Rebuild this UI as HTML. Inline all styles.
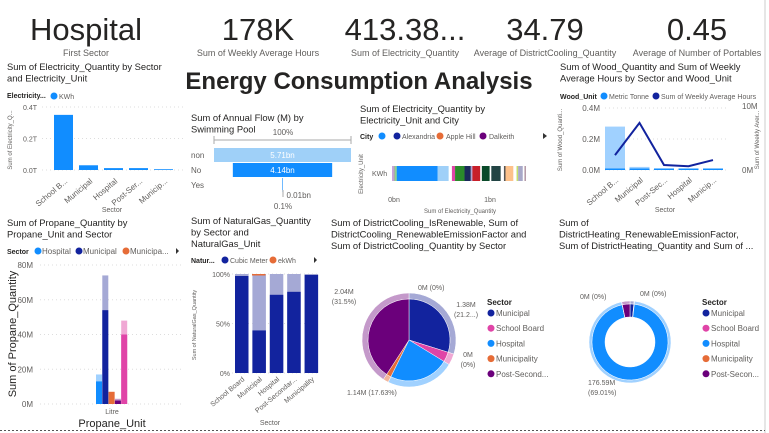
<!DOCTYPE html>
<html><head><meta charset="utf-8"><style>
html,body{margin:0;padding:0;background:#fff;}
svg{display:block;font-family:"Liberation Sans",sans-serif;}
</style></head><body>
<svg id="s" width="769" height="433" viewBox="0 0 769 433" xmlns="http://www.w3.org/2000/svg">
<rect x="0" y="0" width="769" height="433" fill="#fff"/>
<line x1="765" y1="0" x2="765" y2="433" stroke="#ccc"/>
<line x1="0" y1="430.5" x2="765" y2="430.5" stroke="#555" stroke-dasharray="2,2"/>
<g font-family="'Liberation Sans Narrow','Liberation Sans',sans-serif" fill="#252423" text-anchor="middle">
<text x="86" y="40" font-size="31">Hospital</text>
<text x="86" y="56" font-size="9" fill="#605e5c">First Sector</text>
<text x="258" y="40" font-size="31">178K</text>
<text x="258" y="56" font-size="9" fill="#605e5c">Sum of Weekly Average Hours</text>
<text x="405" y="40" font-size="31">413.38...</text>
<text x="405" y="56" font-size="9" fill="#605e5c">Sum of Electricity_Quantity</text>
<text x="545" y="40" font-size="31">34.79</text>
<text x="545" y="56" font-size="9" fill="#605e5c">Average of DistrictCooling_Quantity</text>
<text x="697" y="40" font-size="31">0.45</text>
<text x="697" y="56" font-size="9" fill="#605e5c">Average of Number of Portables</text>
</g>
<text x="359" y="89" text-anchor="middle" font-size="24" font-weight="bold" fill="#252423">Energy Consumption Analysis</text>
<g id="charts"></g>
</svg>
<script>
// ---- data ----
const elecSectors=["School B...","Municipal","Hospital","Post-Ser...","Municip..."];
const elecValues=[0.35,0.03,0.012,0.012,0.005];
const elecTicks=["0.0T","0.2T","0.4T"];
const funnelCats=["non","No","Yes"];
const funnelValues=[5.71,4.14,0.01];
const funnelLabels=["5.71bn","4.14bn","0.01bn"];
const cityShares=[0.01,0.01,0.01,0.26,0.07,0.02,0.02,0.06,0.04,0.01,0.05,0.01,0.05,0.01,0.06,0.02,0.01,0.05,0.02,0.01,0.03,0.01,0.01];
const cityColors=["#c9a0dc","#aaa","#7fd17f","#118dff","#9fd0f8","#fff","#e044a7","#2a8a2a","#1b2a5a","#b0a0d0","#c8202a","#fff","#0a4a2a","#fff","#244","#fff","#555","#fdc18a","#fff","#c6e06a","#a8a8c8","#fff","#b59ba8"];
const woodSectors=["School B...","Municipal","Post-Sec...","Hospital","Municip..."];
const woodValues=[0.28,0.02,0.01,0.005,0.005];
const hoursValues=[2.4,7.6,0.8,0.6,1.6];
const propaneSeries=["Hospital","Municipal","Municipality","Post-Secondary","School Board"];
const propaneTotal=[17,74,7,3,48];
const propaneDark=[13,54,7,2,40];
const propaneTicks=[0,20,40,60,80];
const gasSectors=["School Board","Municipal","Hospital","Post-Secondar...","Municipality"];
const gasCubicPct=[98,43,79,82,99];
const coolSectors=["Municipal","School Board","Hospital","Municipality","Post-Secondary"];
const coolValues=[1.9,0.25,1.5,0.12,2.6];
const heatValues=[3,0.4,176.59,0.2,6];

const NS="http://www.w3.org/2000/svg";
const root=document.getElementById('charts');
function mk(tag,attrs,parent,txt){const e=document.createElementNS(NS,tag);for(const k in attrs)e.setAttribute(k,attrs[k]);if(txt!==undefined)e.textContent=txt;(parent||root).appendChild(e);return e;}
function title(lines,x,y,name){const t=mk('text',{x:x,y:y,'font-size':9.4,fill:'#252423'});lines.forEach((l,i)=>mk('tspan',{x:x,dy:i?11.5:0},t,l));}
function txt(x,y,s,size,opts,name){const t=mk('text',Object.assign({x:x,y:y,'font-size':size,fill:'#605e5c'},opts||{}),root,s);return t;}
function dot(x,y,c,name){const d=mk('circle',{cx:x,cy:y,r:3.5,fill:c});}

// ---- Chart 1 ----
title(["Sum of Electricity_Quantity by Sector","and Electricity_Unit"],7,70,'electricity-chart-title');
txt(7,98,"Electricity...",7,{'font-weight':'bold',fill:'#252423'},'electricity-legend-title');
dot(54,96,'#118dff','electricity-legend-kwh-dot');txt(59,99,"KWh",7,{},'electricity-legend-kwh');
{const y0=170,h=63,max=0.4;const ys=v=>y0-v/max*h;
elecTicks.forEach((t,i)=>{const y=ys(i*0.2);mk('line',{x1:42,x2:183,y1:y,y2:y,stroke:'#ddd','stroke-dasharray':'1,3'});txt(37,y+3,t,7,{'text-anchor':'end'},'electricity-y-tick');});
elecValues.forEach((v,i)=>{const x=54+i*25;const b=mk('rect',{x:x,y:ys(v),width:19,height:y0-ys(v),fill:'#118dff'});
txt(x+14,182,elecSectors[i],8,{'text-anchor':'end',transform:`rotate(-40 ${x+14} 182)`},'electricity-x-label');});
txt(12,140,"Sum of Electricity_Q...",6,{'text-anchor':'middle',transform:'rotate(-90 12 140)'},'electricity-y-axis-title');
txt(112,212,"Sector",7,{'text-anchor':'middle'},'electricity-x-axis-title');}

// ---- Chart 2: funnel ----
title(["Sum of Annual Flow (M) by","Swimming Pool"],191,121,'funnel-chart-title');
txt(283,135,"100%",8,{'text-anchor':'middle'},'funnel-top-pct');
mk('line',{x1:214,x2:351,y1:140,y2:140,stroke:'#aaa'});mk('line',{x1:214,x2:214,y1:136,y2:144,stroke:'#aaa'});mk('line',{x1:351,x2:351,y1:136,y2:144,stroke:'#aaa'});
{const cx=282.5,w=137,fc=['#9fd0f8','#118dff','#118dff'];
funnelValues.forEach((v,i)=>{const bw=v/funnelValues[0]*w;const y=148+i*15;
const b=mk('rect',{x:cx-bw/2,y:y,width:Math.max(bw,0.6),height:14,fill:fc[i]});
txt(191,y+10,funnelCats[i],8,{},'funnel-category-label');
if(bw>30)txt(cx,y+10,funnelLabels[i],8,{'text-anchor':'middle',fill:'#fff'},'funnel-value-label');else txt(cx+4,y+20,funnelLabels[i],8,{},'funnel-value-label');});
mk('line',{x1:283,x2:283,y1:190,y2:197,stroke:'#aaa'});
txt(283,209,"0.1%",8,{'text-anchor':'middle'},'funnel-bottom-pct');}

// ---- Chart 3: electricity by city ----
title(["Sum of Electricity_Quantity by","Electricity_Unit and City"],360,112,'city-chart-title');
txt(360,139,"City",7,{'font-weight':'bold',fill:'#252423'},'city-legend-title');
dot(382,136,'#118dff','city-legend-dot-0');dot(397,136,'#12239e','city-legend-dot-1');txt(402,139,"Alexandria",7,{},'city-legend-alexandria');
dot(440,136,'#e66c37','city-legend-dot-2');txt(446,139,"Apple Hill",7,{},'city-legend-applehill');
dot(483,136,'#6b007b','city-legend-dot-3');txt(489,139,"Dalkeith",7,{},'city-legend-dalkeith');
mk('path',{d:'M543 133 L547 136 L543 139Z',fill:'#333'});
txt(372,176,"KWh",7,{},'city-y-label');
txt(363,174,"Electricity_Unit",6,{'text-anchor':'middle',transform:'rotate(-90 363 174)'},'city-y-axis-title');
{let x=392;const total=cityShares.reduce((a,b)=>a+b,0);const W=134;
cityShares.forEach((v,i)=>{const w=v/total*W;const r=mk('rect',{x:x,y:166,width:w,height:15,fill:cityColors[i]});x+=w;});
txt(394,202,"0bn",7,{'text-anchor':'middle'},'city-x-tick');txt(490,202,"1bn",7,{'text-anchor':'middle'},'city-x-tick');
txt(460,213,"Sum of Electricity_Quantity",6,{'text-anchor':'middle'},'city-x-axis-title');}

// ---- Chart 4: wood ----
title(["Sum of Wood_Quantity and Sum of Weekly","Average Hours by Sector and Wood_Unit"],560,70,'wood-chart-title');
txt(560,99,"Wood_Unit",7,{'font-weight':'bold',fill:'#252423'},'wood-legend-title');
dot(604,96,'#118dff','wood-legend-dot-metric');txt(609,99,"Metric Tonne",7,{},'wood-legend-metric');
dot(656,96,'#12239e','wood-legend-dot-hours');txt(661,99,"Sum of Weekly Average Hours",7,{},'wood-legend-hours');
{const y0=170,h=62;const yl=v=>y0-v/0.4*h,yr=v=>y0-v/10*h;
[0,0.2,0.4].forEach(v=>{mk('line',{x1:605,x2:728,y1:yl(v),y2:yl(v),stroke:'#ddd','stroke-dasharray':'1,3'});txt(600,yl(v)+3,v.toFixed(1)+"M",8,{'text-anchor':'end'},'wood-y-tick');});
txt(742,109,"10M",8,{},'wood-y2-tick');txt(742,173,"0M",8,{},'wood-y2-tick');
let pts=[];
woodValues.forEach((v,i)=>{const x=605+i*24.5;const b=mk('rect',{x:x,y:yl(v),width:20,height:y0-yl(v),fill:'#a0d1ff'});
mk('rect',{x:x,y:y0-1.5,width:20,height:1.5,fill:'#118dff'});
pts.push((x+10)+','+yr(hoursValues[i]));
txt(x+14,181,woodSectors[i],8,{'text-anchor':'end',transform:`rotate(-40 ${x+14} 181)`},'wood-x-label');});
const l=mk('polyline',{points:pts.join(' '),fill:'none',stroke:'#12239e','stroke-width':2});
txt(562,140,"Sum of Wood_Quanti...",6,{'text-anchor':'middle',transform:'rotate(-90 562 140)'},'wood-y-axis-title');
txt(759,140,"Sum of Weekly Aver...",6,{'text-anchor':'middle',transform:'rotate(-90 759 140)'},'wood-y2-axis-title');
txt(665,212,"Sector",7,{'text-anchor':'middle'},'wood-x-axis-title');}

// ---- Chart 5: propane ----
title(["Sum of Propane_Quantity by","Propane_Unit and Sector"],7,226,'propane-chart-title');
txt(7,254,"Sector",7,{'font-weight':'bold',fill:'#252423'},'propane-legend-title');
const pc=['#118dff','#12239e','#e66c37','#6b007b','#e044a7'],pl=['#a0d1ff','#a5a9d5','#f2b69c','#c499ca','#f0a8d4'];
dot(38,251,pc[0],'propane-legend-dot-hospital');txt(42,254,"Hospital",8,{},'propane-legend-hospital');
dot(79,251,pc[1],'propane-legend-dot-municipal');txt(83,254,"Municipal",8,{},'propane-legend-municipal');
dot(126,251,pc[2],'propane-legend-dot-municipality');txt(130,254,"Municipa...",8,{},'propane-legend-municipality');
mk('path',{d:'M176 248 L179 251 L176 254Z',fill:'#333'});
{const y0=404,h=139;const ys=v=>y0-v/80*h;
propaneTicks.forEach(v=>{mk('line',{x1:40,x2:183,y1:ys(v),y2:ys(v),stroke:'#ddd','stroke-dasharray':'1,3'});txt(33,ys(v)+3,v+"M",8,{'text-anchor':'end'},'propane-y-tick');});
propaneTotal.forEach((v,i)=>{const x=96+i*6.3;const a=mk('rect',{x:x,y:ys(v),width:6,height:y0-ys(v),fill:pl[i]});
const d=mk('rect',{x:x,y:ys(propaneDark[i]),width:6,height:y0-ys(propaneDark[i]),fill:pc[i]});});
txt(112,414,"Litre",7,{'text-anchor':'middle'},'propane-x-tick');
txt(112,427,"Propane_Unit",11,{'text-anchor':'middle',fill:'#252423'},'propane-x-axis-title');
txt(16,334,"Sum of Propane_Quantity",11,{'text-anchor':'middle',fill:'#252423',transform:'rotate(-90 16 334)'},'propane-y-axis-title');}

// ---- Chart 6: natural gas ----
title(["Sum of NaturalGas_Quantity","by Sector and","NaturalGas_Unit"],191,224,'gas-chart-title');
txt(191,263,"Natur...",7,{'font-weight':'bold',fill:'#252423'},'gas-legend-title');
dot(225,260,'#12239e','gas-legend-dot-cubic');txt(230,263,"Cubic Meter",7,{},'gas-legend-cubic');
dot(273,260,'#e66c37','gas-legend-dot-ekwh');txt(278,263,"ekWh",7,{},'gas-legend-ekwh');
mk('path',{d:'M314 257 L317 260 L314 263Z',fill:'#333'});
{const y0=373,h=99;const ys=v=>y0-v/100*h;
[0,50,100].forEach(v=>{mk('line',{x1:232,x2:318,y1:ys(v),y2:ys(v),stroke:'#ddd','stroke-dasharray':'1,3'});txt(230,ys(v)+3,v+"%",7,{'text-anchor':'end'},'gas-y-tick');});
gasCubicPct.forEach((v,i)=>{const x=235+i*17.4;mk('rect',{x:x,y:ys(100),width:13.5,height:h,fill:'#a5a9d5'});
const b=mk('rect',{x:x,y:ys(v),width:13.5,height:y0-ys(v),fill:'#12239e'});
txt(x+10,380,gasSectors[i],7,{'text-anchor':'end',transform:`rotate(-40 ${x+10} 380)`},'gas-x-label');});
mk('rect',{x:252,y:ys(100),width:13.5,height:1.5,fill:'#e66c37'});
txt(196,325,"Sum of NaturalGas_Quantity",5.5,{'text-anchor':'middle',transform:'rotate(-90 196 325)'},'gas-y-axis-title');
txt(270,425,"Sector",7,{'text-anchor':'middle'},'gas-x-axis-title');}

// ---- Pie/donut helper ----
function arc(cx,cy,r0,r1,a0,a1){const p=(r,a)=>[cx+r*Math.sin(a),cy-r*Math.cos(a)];const lg=(a1-a0)>Math.PI?1:0;const [x1,y1]=p(r1,a0),[x2,y2]=p(r1,a1);
if(r0===0){return `M${cx} ${cy}L${x1} ${y1}A${r1} ${r1} 0 ${lg} 1 ${x2} ${y2}Z`;}
const [x3,y3]=p(r0,a1),[x4,y4]=p(r0,a0);return `M${x1} ${y1}A${r1} ${r1} 0 ${lg} 1 ${x2} ${y2}L${x3} ${y3}A${r0} ${r0} 0 ${lg} 0 ${x4} ${y4}Z`;}
function pie(vals,cx,cy,rin,rmid,rout,prefix){const t=vals.reduce((a,b)=>a+b,0);let a=0;
vals.forEach((v,i)=>{const a1=a+v/t*2*Math.PI;mk('path',{d:arc(cx,cy,rmid,rout,a,a1),fill:pl[[1,4,0,2,3][i]],stroke:'#fff','stroke-width':0.5});
const s=mk('path',{d:arc(cx,cy,rin,rmid,a,a1),fill:pc[[1,4,0,2,3][i]],stroke:'#fff','stroke-width':0.5});a=a1;});}
function legend(x,prefix){txt(x,305,"Sector",8,{'font-weight':'bold',fill:'#252423'},prefix+'-legend-title');
const names=[["Municipal",1],["School Board",4],["Hospital",0],["Municipality",2],[prefix==='cooling'?"Post-Second...":"Post-Secon...",3]];
names.forEach((n,i)=>{const y=316+i*15.2;dot(x+4,y-3,pc[n[1]],prefix+'-legend-dot-'+i);txt(x+9,y,n[0],8,{},prefix+'-legend-item');});}

// ---- Chart 7 ----
title(["Sum of DistrictCooling_IsRenewable, Sum of","DistrictCooling_RenewableEmissionFactor and","Sum of DistrictCooling_Quantity by Sector"],331,226,'cooling-chart-title');
pie(coolValues,409,340,0,41,47,'cooling');
txt(344,294,"2.04M",7,{'text-anchor':'middle'},'cooling-label-post');txt(344,304,"(31.5%)",7,{'text-anchor':'middle'},'cooling-label-post-pct');
txt(418,290,"0M (0%)",7,{},'cooling-label-top');
txt(466,307,"1.38M",7,{'text-anchor':'middle'},'cooling-label-municipal');txt(466,317,"(21.2...)",7,{'text-anchor':'middle'},'cooling-label-municipal-pct');
txt(468,357,"0M",7,{'text-anchor':'middle'},'cooling-label-school');txt(468,367,"(0%)",7,{'text-anchor':'middle'},'cooling-label-school-pct');
txt(347,395,"1.14M (17.63%)",7,{},'cooling-label-hospital');
legend(487,'cooling');

// ---- Chart 8 ----
title(["Sum of","DistrictHeating_RenewableEmissionFactor,","Sum of DistrictHeating_Quantity and Sum of ..."],559,226,'heating-chart-title');
pie(heatValues,630,342,25,38,41,'heating');
txt(580,299,"0M (0%)",7,{},'heating-label-left');txt(640,296,"0M (0%)",7,{},'heating-label-top');
txt(588,385,"176.59M",7,{},'heating-label-hospital');txt(588,395,"(69.01%)",7,{},'heating-label-hospital-pct');
legend(702,'heating');
</script>
</body></html>
